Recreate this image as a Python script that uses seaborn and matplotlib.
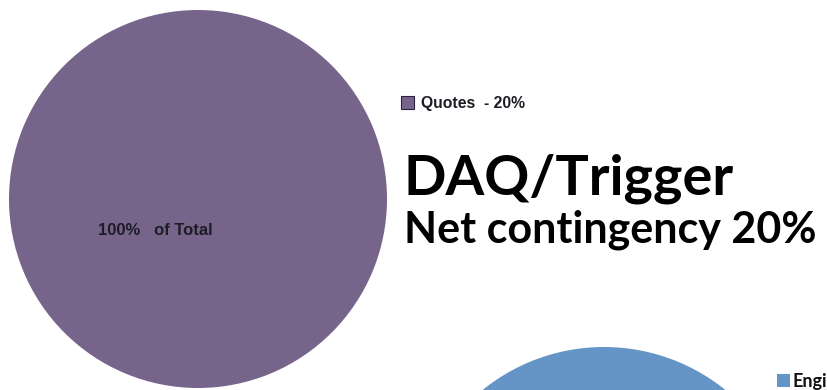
import matplotlib
matplotlib.use("Agg")
import matplotlib.pyplot as plt
import seaborn as sns

# Budget breakdown per subsystem
daq_categories = ["Quotes"]
daq_share = [100]
daq_contingency = [20]

eng_categories = ["Engineering"]
eng_share = [100]

title = "DAQ/Trigger"
subtitle = "Net contingency 20%"

purple = "#77648B"
blue = "#6595C6"

sns.set_theme(style="white")
plt.rcParams["font.family"] = ["Liberation Sans", "DejaVu Sans"]

W, H = 827, 390
fig = plt.figure(figsize=(W / 100, H / 100), dpi=100)
ax = fig.add_axes([0, 0, 1, 1])

# Main DAQ/Trigger pie
daq_wedges, _, daq_pct = ax.pie(
    daq_share,
    colors=[purple],
    center=(198, 199),
    radius=189,
    startangle=-36,
    autopct=lambda p: f"{p:.0f}%   of Total",
    pctdistance=0.28,
    wedgeprops=dict(linewidth=0),
    textprops=dict(fontsize=12, fontweight="bold", color="#1c1c24",
                   family="Liberation Sans"),
)

# Neighbouring pie, only its top shows at the bottom edge
eng_wedges, _ = ax.pie(
    eng_share,
    colors=[blue],
    center=(604, 540),
    radius=193,
    wedgeprops=dict(linewidth=0),
)

ax.set_xlim(0, W)
ax.set_ylim(H, 0)
ax.set_aspect("equal")
ax.axis("off")

# Legends
daq_labels = [f"{c}  - {v}%" for c, v in zip(daq_categories, daq_contingency)]
leg1 = ax.legend(
    [plt.Rectangle((0, 0), 1, 1, facecolor=purple, edgecolor="#2a2040", linewidth=0.8)],
    daq_labels,
    loc="center left", bbox_to_anchor=(401, 103.5), bbox_transform=ax.transData,
    frameon=False, borderpad=0, borderaxespad=0,
    handlelength=0.85, handleheight=0.85, handletextpad=0.4,
    prop=dict(family="Liberation Sans", weight="bold", size=11.3),
)
for t in leg1.get_texts():
    t.set_color("#1c1c24")
ax.add_artist(leg1)

leg2 = ax.legend(
    [plt.Rectangle((0, 0), 1, 1, facecolor=blue, edgecolor="none")],
    eng_categories,
    loc="center left", bbox_to_anchor=(777, 381), bbox_transform=ax.transData,
    frameon=False, borderpad=0, borderaxespad=0,
    handlelength=0.7, handleheight=0.7, handletextpad=0.15,
    prop=dict(family="Lato", weight="bold", size=13),
)
for t in leg2.get_texts():
    t.set_color("#111111")

# Headings
t1 = ax.text(403, 195, title, fontsize=44, fontweight="bold", family="Lato",
             color="black", ha="left", va="baseline")
t2 = ax.text(404, 243, subtitle, fontsize=28, fontweight="bold", family="Lato",
             color="black", ha="left", va="baseline")

fig.canvas.draw()
for t, target in ((t1, 330), (t2, 413)):
    w = t.get_window_extent().width
    t.set_fontsize(t.get_fontsize() * target / w)

fig.savefig("out.png", dpi=100)
